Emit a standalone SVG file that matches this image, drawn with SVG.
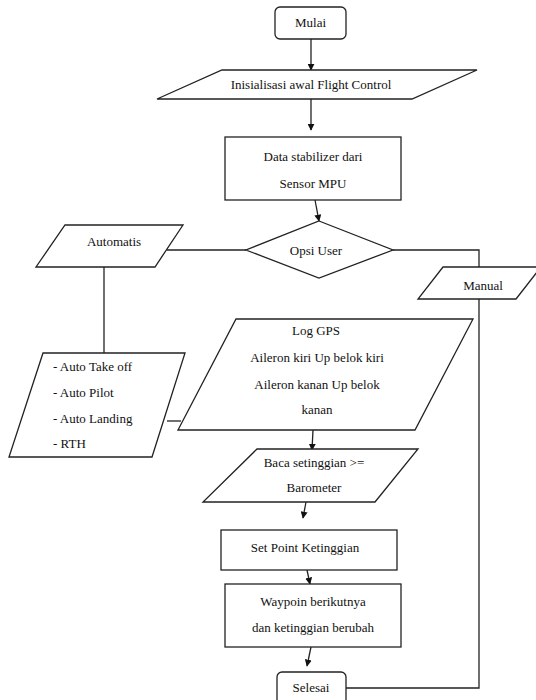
<svg xmlns="http://www.w3.org/2000/svg" width="536" height="700" viewBox="0 0 536 700">
<style>
.s{fill:#fff;stroke:#222;stroke-width:1.3}
.c{fill:none;stroke:#222;stroke-width:1.3}
text{font-family:"Liberation Serif","Times New Roman",serif;font-size:13px;fill:#111}
.m{text-anchor:middle}
</style>
<defs>
<marker id="ah" viewBox="0 0 10 10" refX="9" refY="5" markerWidth="7" markerHeight="7" markerUnits="userSpaceOnUse" orient="auto">
<path d="M0,0 L10,5 L0,10 z" fill="#111"/>
</marker>
</defs>
<rect width="536" height="700" fill="#fff"/>
<g id="connectors">
<line class="c" x1="311" y1="39" x2="311" y2="70" marker-end="url(#ah)"/>
<line class="c" x1="311" y1="99" x2="311" y2="130" marker-end="url(#ah)"/>
<line class="c" x1="315" y1="200" x2="319" y2="221" marker-end="url(#ah)"/>
<polyline class="c" points="167,250 246,250"/>
<polyline class="c" points="393,250 479,250 479,267"/>
<polyline class="c" points="104,267 104,353"/>
<polyline class="c" points="167,421 181,421"/>
<line class="c" x1="313" y1="430" x2="312" y2="450" marker-end="url(#ah)"/>
<line class="c" x1="306" y1="502" x2="303" y2="518" marker-end="url(#ah)"/>
<line class="c" x1="307" y1="570" x2="310" y2="584" marker-end="url(#ah)"/>
<line class="c" x1="311" y1="647" x2="307" y2="666" marker-end="url(#ah)"/>
<polyline class="c" points="479,299 479,688 346,688"/>
</g>
<g id="mulai">
<rect class="s" x="275" y="7" width="71" height="32" rx="5"/>
<text class="m" x="310.5" y="27">Mulai</text>
</g>
<g id="inisialisasi">
<polygon class="s" points="222,70 477,70 412,99 157,99"/>
<text class="m" x="311" y="89">Inisialisasi awal Flight Control</text>
</g>
<g id="data-stabilizer">
<rect class="s" x="225" y="137" width="176" height="63"/>
<text class="m" x="313" y="161">Data stabilizer dari</text>
<text class="m" x="313" y="188">Sensor MPU</text>
</g>
<g id="opsi-user">
<polygon class="s" points="319,221 393,250 319,278 246,250"/>
<text class="m" x="316" y="255">Opsi User</text>
</g>
<g id="automatis">
<polygon class="s" points="65,225 183,225 155,267 36,267"/>
<text class="m" x="114" y="246">Automatis</text>
</g>
<g id="manual">
<polygon class="s" points="443,267 541,267 516,299 418,299"/>
<text class="m" x="483" y="290">Manual</text>
</g>
<g id="auto-list">
<polygon class="s" points="43,353 185,353 152,457 9,457"/>
<text x="53" y="371">- Auto Take off</text>
<text x="53" y="397">- Auto Pilot</text>
<text x="53" y="423">- Auto Landing</text>
<text x="53" y="448">- RTH</text>
</g>
<g id="log-gps">
<polygon class="s" points="236,319 473,319 415,430 178,430"/>
<text class="m" x="316" y="335">Log GPS</text>
<text class="m" x="317" y="362">Aileron kiri Up belok kiri</text>
<text class="m" x="317" y="389">Aileron kanan Up belok</text>
<text class="m" x="317" y="414">kanan</text>
</g>
<g id="baca">
<polygon class="s" points="257,449 418,449 375,502 203,502"/>
<text class="m" x="314" y="467">Baca setinggian &gt;=</text>
<text class="m" x="314" y="492">Barometer</text>
</g>
<g id="set-point">
<rect class="s" x="221" y="530" width="176" height="40"/>
<text class="m" x="305" y="552">Set Point Ketinggian</text>
</g>
<g id="waypoin">
<rect class="s" x="225" y="584" width="176" height="63"/>
<text class="m" x="313" y="606">Waypoin berikutnya</text>
<text class="m" x="313" y="632">dan ketinggian berubah</text>
</g>
<g id="selesai">
<rect class="s" x="277" y="672" width="69" height="34" rx="5"/>
<text class="m" x="311" y="692">Selesai</text>
</g>
</svg>
